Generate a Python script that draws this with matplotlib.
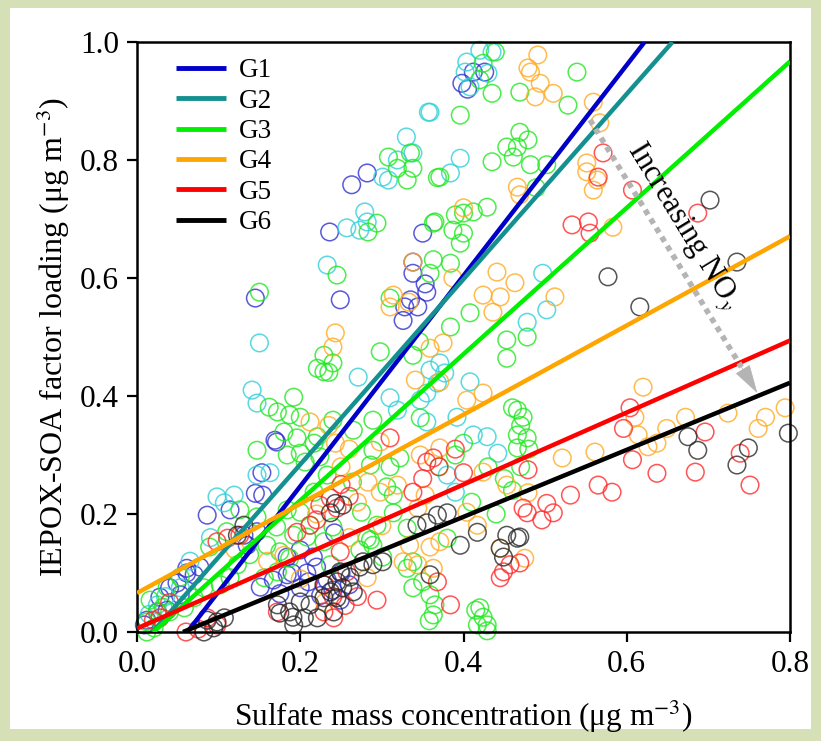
import numpy as np
import matplotlib
matplotlib.use("Agg")
import matplotlib.pyplot as plt
from matplotlib.patches import Rectangle

plt.rcParams['font.family'] = ['Liberation Serif', 'DejaVu Serif']
plt.rcParams['mathtext.fontset'] = 'stix'

# ---------------- data ----------------
groups = ["G1", "G2", "G3", "G4", "G5", "G6"]
line_colors = ["#0000c8", "#159090", "#00f000", "#ffa500", "#ff0000", "#000000"]
point_colors = ["#3030d0", "#30d0d8", "#20e820", "#ffaa22", "#ff2a2a", "#2a2a2a"]

# fitted lines: slope, intercept
slopes = [1.785, 1.57, 1.24, 0.756, 0.61, 0.568]
intercepts = [-0.11, -0.03, -0.025, 0.066, 0.006, -0.032]

g1_pts = [(0.398,0.93),(0.412,0.949),(0.426,0.949),(0.405,0.92),
(0.263,0.758),(0.282,0.778),(0.236,0.678),(0.35,0.676),(0.145,0.566),
(0.249,0.563),(0.338,0.627),(0.338,0.608),(0.353,0.59),(0.355,0.576),(0.335,0.563),(0.328,0.551),(0.326,0.528),(0.344,0.551),
(0.086,0.198),(0.114,0.207),(0.171,0.322),(0.154,0.232),(0.135,0.147),(0.147,0.17),(0.2,0.139),(0.184,0.127),(0.216,0.127),
(0.208,0.1),(0.184,0.097),(0.24,0.071),(0.249,0.054),(0.233,0.088),(0.167,0.088),(0.151,0.076),(0.077,0.11),(0.061,0.1),
(0.049,0.083),(0.028,0.059),(0.012,0.02),(0.037,0.037),(0.153,0.27),(0.145,0.235),(0.169,0.325),(0.131,0.164),(0.061,0.108),
(0.07,0.097),(0.04,0.075),(0.053,0.063),(0.009,0.012),(0.025,0.034),(0.19,0.1),(0.2,0.075),(0.22,0.11),(0.175,0.065),
(0.225,0.062),(0.21,0.085),(0.242,0.168),(0.25,0.1),(0.26,0.08)]

g2_pts = [(0.357,0.881),(0.33,0.839),(0.338,0.812),(0.319,0.8),(0.301,0.771),(0.308,0.766),(0.279,0.712),(0.282,0.695),
(0.257,0.685),(0.273,0.681),(0.42,0.986),(0.435,0.983),(0.404,0.966),(0.402,0.949),(0.408,0.924),(0.43,0.947),(0.359,0.881),
(0.396,0.803),(0.384,0.778),(0.15,0.49),(0.141,0.41),(0.147,0.388),(0.233,0.622),(0.271,0.432),(0.478,0.525),(0.371,0.456),
(0.359,0.444),(0.377,0.439),(0.368,0.422),(0.355,0.405),(0.347,0.393),(0.408,0.424),(0.31,0.397),(0.319,0.376),(0.355,0.356),
(0.392,0.364),(0.412,0.334),(0.429,0.331),(0.442,0.303),(0.38,0.266),(0.39,0.237),(0.497,0.608),(0.502,0.546),(0.147,0.266),
(0.107,0.219),(0.098,0.229),(0.119,0.232),(0.163,0.27),(0.053,0.075),(0.025,0.046),(0.09,0.16),(0.065,0.12),(0.035,0.06),(0.015,0.03)]

g3_pts = [(0.439,0.983),(0.424,0.964),(0.42,0.936),(0.435,0.913),(0.539,0.949),(0.469,0.915),(0.528,0.893),(0.396,0.876),
(0.469,0.847),(0.479,0.834),(0.453,0.822),(0.466,0.822),(0.461,0.805),(0.435,0.797),(0.482,0.792),(0.502,0.792),(0.371,0.771),
(0.489,0.753),(0.4,0.71),(0.429,0.72),(0.412,0.712),(0.39,0.707),(0.365,0.695),(0.387,0.681),(0.4,0.676),
(0.308,0.805),(0.319,0.786),(0.335,0.812),(0.338,0.786),(0.331,0.766),(0.368,0.77),(0.294,0.693),(0.283,0.678),(0.363,0.693),
(0.15,0.576),(0.229,0.469),(0.221,0.447),(0.229,0.441),(0.192,0.398),(0.162,0.381),(0.172,0.373),(0.187,0.368),(0.2,0.364),
(0.245,0.605),(0.363,0.631),(0.384,0.625),(0.359,0.608),(0.31,0.566),(0.396,0.659),(0.408,0.541),(0.384,0.517),(0.298,0.475),
(0.338,0.469),(0.346,0.492),(0.453,0.495),(0.453,0.464),(0.478,0.5),(0.466,0.376),(0.473,0.364),(0.289,0.359),(0.347,0.363),
(0.24,0.456),(0.235,0.44),(0.478,0.329),(0.466,0.312),(0.314,0.232),(0.322,0.295),(0.286,0.283),(0.264,0.254),(0.275,0.203),
(0.294,0.181),(0.282,0.159),(0.289,0.147),(0.331,0.176),(0.338,0.119),(0.331,0.108),(0.35,0.085),(0.338,0.075),(0.359,0.063),
(0.363,0.029),(0.38,0.159),(0.42,0.041),(0.424,0.025),(0.429,0.012),(0.417,0.012),(0.466,0.334),(0.358,0.019),(0.365,0.046),
(0.415,0.037),(0.429,0.002),(0.147,0.308),(0.18,0.339),(0.196,0.329),(0.217,0.32),(0.224,0.297),(0.206,0.288),(0.184,0.3),
(0.233,0.266),(0.217,0.237),(0.2,0.203),(0.212,0.181),(0.192,0.164),(0.175,0.136),(0.159,0.147),(0.138,0.131),(0.123,0.114),
(0.114,0.092),(0.102,0.08),(0.082,0.075),(0.07,0.058),(0.058,0.041),(0.04,0.034),(0.025,0.034),(0.012,0.017),(0.021,0.007),
(0.172,0.102),(0.156,0.092),(0.229,0.153),(0.237,0.114),(0.187,0.125),(0.2,0.303),(0.221,0.331),(0.24,0.359),(0.265,0.342),
(0.289,0.308),(0.31,0.28),(0.306,0.246),(0.314,0.202),(0.286,0.156),(0.301,0.127),(0.273,0.139),(0.24,0.178),(0.208,0.161),
(0.184,0.207),(0.171,0.178),(0.147,0.195),(0.126,0.207),(0.11,0.17),(0.089,0.144),(0.053,0.093),(0.037,0.076),(0.016,0.054),
(0.032,0.042),(0.012,0.0),(0.4,0.32),(0.43,0.28),(0.45,0.26),(0.39,0.3),(0.37,0.28),(0.41,0.22),(0.44,0.2),(0.47,0.28),
(0.48,0.31),(0.46,0.24),(0.47,0.35),(0.46,0.38)]

g4_pts = [(0.491,0.978),(0.479,0.956),(0.482,0.949),(0.494,0.93),(0.51,0.913),(0.488,0.907),(0.559,0.898),(0.567,0.863),
(0.551,0.795),(0.551,0.78),(0.559,0.749),(0.564,0.766),(0.466,0.754),(0.469,0.741),(0.4,0.719),(0.583,0.686),(0.512,0.568),
(0.62,0.415),(0.441,0.61),(0.463,0.592),(0.424,0.571),(0.445,0.568),(0.436,0.542),(0.387,0.6),(0.338,0.627),(0.314,0.571),
(0.31,0.551),(0.333,0.559),(0.243,0.507),(0.24,0.483),(0.359,0.481),(0.375,0.49),(0.341,0.427),(0.371,0.424),(0.404,0.393),
(0.424,0.405),(0.212,0.356),(0.235,0.35),(0.243,0.32),(0.298,0.322),(0.347,0.3),(0.371,0.312),(0.283,0.254),(0.298,0.237),
(0.319,0.249),(0.353,0.232),(0.344,0.21),(0.404,0.203),(0.417,0.181),(0.334,0.147),(0.359,0.144),(0.371,0.153),(0.344,0.114),
(0.363,0.108),(0.326,0.119),(0.282,0.092),(0.453,0.249),(0.424,0.271),(0.445,0.142),(0.672,0.364),(0.649,0.345),(0.614,0.334),
(0.626,0.314),(0.637,0.32),(0.561,0.305),(0.521,0.295),(0.724,0.371),(0.77,0.364),(0.761,0.345),(0.794,0.38),(0.61,0.364),
(0.479,0.236),(0.475,0.125),(0.25,0.28),(0.26,0.31),(0.27,0.22),(0.3,0.18),(0.22,0.2),(0.2,0.09),(0.23,0.05),(0.18,0.13),
(0.12,0.14),(0.16,0.12),(0.26,0.16)]

g5_pts = [(0.571,0.812),(0.565,0.771),(0.533,0.69),(0.553,0.695),(0.555,0.676),(0.607,0.749),(0.687,0.71),(0.604,0.38),
(0.596,0.345),(0.607,0.292),(0.637,0.269),(0.684,0.271),(0.696,0.339),(0.739,0.303),(0.751,0.249),(0.531,0.232),(0.565,0.249),
(0.582,0.237),(0.502,0.218),(0.51,0.202),(0.496,0.19),(0.478,0.202),(0.479,0.275),(0.469,0.117),(0.473,0.21),(0.449,0.102),
(0.457,0.114),(0.445,0.092),(0.294,0.054),(0.384,0.046),(0.368,0.085),(0.355,0.288),(0.363,0.295),(0.338,0.237),(0.31,0.329),
(0.245,0.21),(0.249,0.136),(0.257,0.102),(0.098,0.153),(0.111,0.159),(0.126,0.164),(0.028,0.024),(0.086,0.024),(0.098,0.012),
(0.172,0.034),(0.229,0.034),(0.241,0.024),(0.224,0.215),(0.212,0.181),(0.237,0.227),(0.196,0.169),(0.02,0.02),(0.06,0.0),
(0.075,0.005),(0.04,0.05),(0.24,0.06),(0.23,0.08),(0.22,0.19),(0.25,0.25),(0.26,0.23),(0.37,0.28),(0.35,0.26),(0.39,0.31),
(0.4,0.27),(0.255,0.045),(0.27,0.06)]

g6_pts = [(0.702,0.732),(0.577,0.602),(0.616,0.551),(0.735,0.627),(0.675,0.331),(0.687,0.308),(0.735,0.283),(0.749,0.312),
(0.798,0.337),(0.469,0.161),(0.343,0.181),(0.355,0.185),(0.368,0.198),(0.38,0.202),(0.396,0.147),(0.417,0.169),(0.453,0.164),
(0.466,0.159),(0.445,0.142),(0.449,0.127),(0.359,0.097),(0.301,0.119),(0.289,0.114),(0.277,0.119),(0.249,0.102),(0.245,0.085),
(0.252,0.075),(0.265,0.068),(0.245,0.058),(0.252,0.215),(0.243,0.218),(0.123,0.164),(0.131,0.181),(0.098,0.017),(0.107,0.024),
(0.094,0.007),(0.082,0.0),(0.187,0.034),(0.205,0.024),(0.192,0.012),(0.221,0.024),(0.212,0.046),(0.229,0.058),(0.237,0.068),
(0.2,0.051),(0.172,0.046),(0.229,0.08),(0.241,0.034),(0.237,0.202),(0.273,0.11),(0.261,0.093),(0.191,0.025),(0.175,0.032),
(0.086,0.02)]

all_pts = [g1_pts, g2_pts, g3_pts, g4_pts, g5_pts, g6_pts]

x_ticks = [0.0, 0.2, 0.4, 0.6, 0.8]
y_ticks = [0.0, 0.2, 0.4, 0.6, 0.8, 1.0]
x_label = "Sulfate mass concentration (μg m$^{-3}$)"
y_label = "IEPOX-SOA factor loading (μg m$^{-3}$)"
arrow_text = "Increasing NO$_y$"
arrow_start = (0.555, 0.868)
arrow_end = (0.760, 0.405)

# ---------------- figure ----------------
W, H = 821, 741
fig = plt.figure(figsize=(W / 100, H / 100), dpi=100)
fig.patch.set_facecolor("#d6e0b6")
fig.add_artist(Rectangle((10 / W, 1 - 729 / H), (811 - 10) / W, (729 - 8) / H,
                         transform=fig.transFigure, facecolor="white",
                         edgecolor="none", zorder=0))

ax = fig.add_axes([137 / W, 1 - 632 / H, 653 / W, 590 / H])
ax.set_facecolor("white")
ax.set_xlim(0, 0.8)
ax.set_ylim(0, 1.0)

for pts, pc in zip(all_pts, point_colors):
    arr = np.array(pts)
    ax.scatter(arr[:, 0], arr[:, 1], s=160, facecolors="none", edgecolors=pc,
               linewidths=1.1, alpha=0.8, zorder=2, clip_on=False)

for name, m, b, lc in zip(groups, slopes, intercepts, line_colors):
    x0 = max(0.0, -b / m)
    x1 = min(0.8, (1.0 - b) / m)
    xs = np.array([x0, x1])
    ax.plot(xs, m * xs + b, color=lc, lw=3.2, label=name, zorder=3,
            solid_capstyle="butt")

# arrow: dotted shaft + solid head
dx = arrow_end[0] - arrow_start[0]
dy = arrow_end[1] - arrow_start[1]
frac = 0.905
base = (arrow_start[0] + frac * dx, arrow_start[1] + frac * dy)
ax.plot([arrow_start[0], base[0]], [arrow_start[1], base[1]],
        color="#b4b4b4", lw=4.0, linestyle=(0, (1, 0.9)), zorder=4,
        dash_capstyle="butt")
ax.annotate("", xy=arrow_end, xytext=base,
            arrowprops=dict(arrowstyle="-|>,head_length=1.9,head_width=0.55",
                            color="#b4b4b4", lw=0.5, shrinkA=0, shrinkB=0),
            zorder=4)
ax.text(0.669, 0.688, arrow_text, rotation=-58.5, rotation_mode="anchor",
        ha="center", va="center", fontsize=22, zorder=5)

ax.set_xticks(x_ticks)
ax.set_yticks(y_ticks)
ax.set_xticklabels([f"{v:.1f}" for v in x_ticks])
ax.set_yticklabels([f"{v:.1f}" for v in y_ticks])
ax.tick_params(axis="both", direction="out", length=7, width=1.6,
               labelsize=22.5, pad=6)
for sp in ax.spines.values():
    sp.set_linewidth(1.8)

ax.set_xlabel(x_label, fontsize=22.5, labelpad=14)
ax.set_ylabel(y_label, fontsize=23, labelpad=6)

leg = ax.legend(loc="upper left", bbox_to_anchor=(0.035, 1.0), frameon=False,
                fontsize=19.5, handlelength=1.85, handletextpad=0.45,
                labelspacing=0.2, borderaxespad=0.2)
for h in leg.get_lines():
    h.set_linewidth(3.5)

fig.savefig("out.png", dpi=100, facecolor=fig.get_facecolor())
